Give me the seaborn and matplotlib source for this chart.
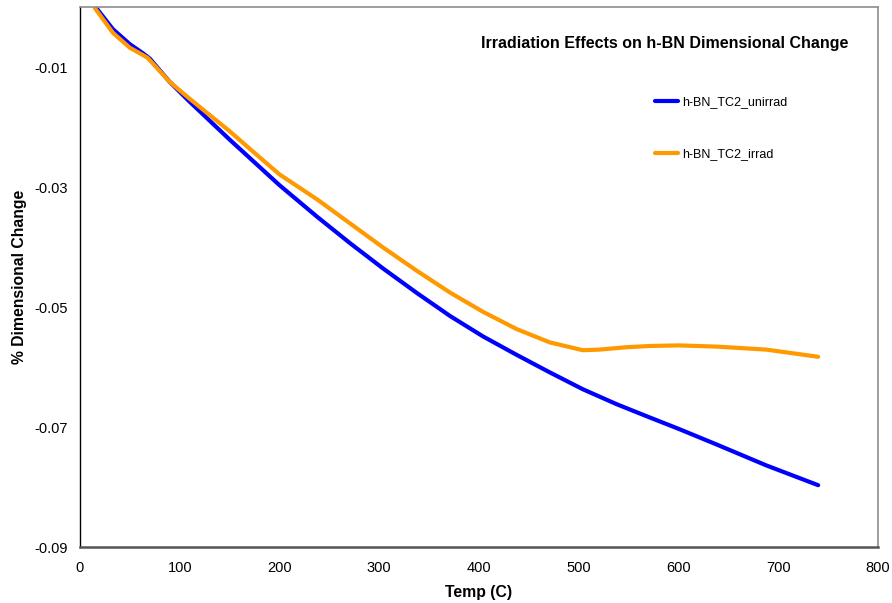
import matplotlib
matplotlib.use("Agg")
import matplotlib.pyplot as plt
import seaborn as sns
import pandas as pd

# Dimensional change (%) of h-BN vs. temperature, unirradiated and irradiated
temp_unirrad = [17, 33, 50, 63, 70, 90, 110, 150, 200, 238, 271, 304, 338, 371,
                404, 438, 471, 504, 538, 571, 600, 638, 688, 740]
dim_unirrad = [-0.0003, -0.0037, -0.0062, -0.0077, -0.0086, -0.0125, -0.0158,
               -0.0221, -0.0297, -0.0350, -0.0394, -0.0436, -0.0477, -0.0515,
               -0.0549, -0.0580, -0.0609, -0.0637, -0.0662, -0.0684, -0.0703,
               -0.0729, -0.0764, -0.0797]

temp_irrad = [15, 33, 50, 63, 68, 90, 110, 150, 170, 200, 238, 271, 304, 338,
              371, 404, 438, 471, 504, 521, 548, 571, 600, 638, 688, 740]
dim_irrad = [-0.0002, -0.0043, -0.0068, -0.0080, -0.0085, -0.0125, -0.0153,
             -0.0207, -0.0236, -0.0279, -0.0321, -0.0361, -0.0401, -0.0440,
             -0.0476, -0.0508, -0.0537, -0.0559, -0.0572, -0.0571, -0.0567,
             -0.0565, -0.0564, -0.0566, -0.0571, -0.0583]

series_names = ["h-BN_TC2_unirrad", "h-BN_TC2_irrad"]
series_colors = ["#0000FF", "#FF9900"]

x_ticks = [0, 100, 200, 300, 400, 500, 600, 700, 800]
y_ticks = [-0.09, -0.07, -0.05, -0.03, -0.01]
y_tick_labels = ["-0.09", "-0.07", "-0.05", "-0.03", "-0.01"]

df = pd.concat([
    pd.DataFrame({"Temp": temp_unirrad, "Change": dim_unirrad, "Series": series_names[0]}),
    pd.DataFrame({"Temp": temp_irrad, "Change": dim_irrad, "Series": series_names[1]}),
], ignore_index=True)

sns.set_theme(style="white")
plt.rcParams["font.family"] = ["Liberation Sans", "DejaVu Sans"]
plt.rcParams.update({
    "text.color": "black",
    "axes.labelcolor": "black",
    "xtick.color": "black",
    "ytick.color": "black",
})

fig = plt.figure(figsize=(8.92, 6.03), dpi=100)
ax = fig.add_axes([80 / 892, 56 / 603, 798 / 892, 540 / 603])

sns.lineplot(data=df, x="Temp", y="Change", hue="Series",
             palette=dict(zip(series_names, series_colors)),
             linewidth=3, sort=False, estimator=None, ax=ax)
for line in ax.get_lines():
    line.set_solid_joinstyle("round")
    line.set_solid_capstyle("round")

ax.set_xlim(0, 800)
ax.set_ylim(-0.09, 0.0)
ax.set_xticks(x_ticks)
ax.set_xticklabels([str(t) for t in x_ticks])
ax.set_yticks(y_ticks)
ax.set_yticklabels(y_tick_labels)
ax.tick_params(axis="both", direction="out", length=5, width=1, color="black",
               labelcolor="black", labelsize=10.5)
ax.tick_params(axis="x", pad=5)
ax.tick_params(axis="y", pad=4)

for side in ["top", "right"]:
    ax.spines[side].set_color("#8c8c8c")
    ax.spines[side].set_linewidth(1.2)
ax.spines["left"].set_color("black")
ax.spines["left"].set_linewidth(1.0)
ax.spines["bottom"].set_color("#555555")
ax.spines["bottom"].set_linewidth(1.8)

ax.set_xlabel("Temp (C)", fontsize=11.3, fontweight="bold", labelpad=7,
              color="black")
ax.set_ylabel("% Dimensional Change", fontsize=11.3, fontweight="bold",
              labelpad=5, color="black")

ax.text(0.733, 0.933, "Irradiation Effects on h-BN Dimensional Change",
        transform=ax.transAxes, ha="center", va="center",
        fontsize=11.5, fontweight="bold", color="black")

leg = ax.legend(loc="upper left", bbox_to_anchor=(0.720, 0.835), frameon=False,
                fontsize=9, handlelength=1.9, handletextpad=0.3,
                labelspacing=3.2, borderaxespad=0, borderpad=0)
for text in leg.get_texts():
    text.set_color("black")
for line in leg.get_lines():
    line.set_linewidth(3)

fig.savefig("out.png", dpi=100)
